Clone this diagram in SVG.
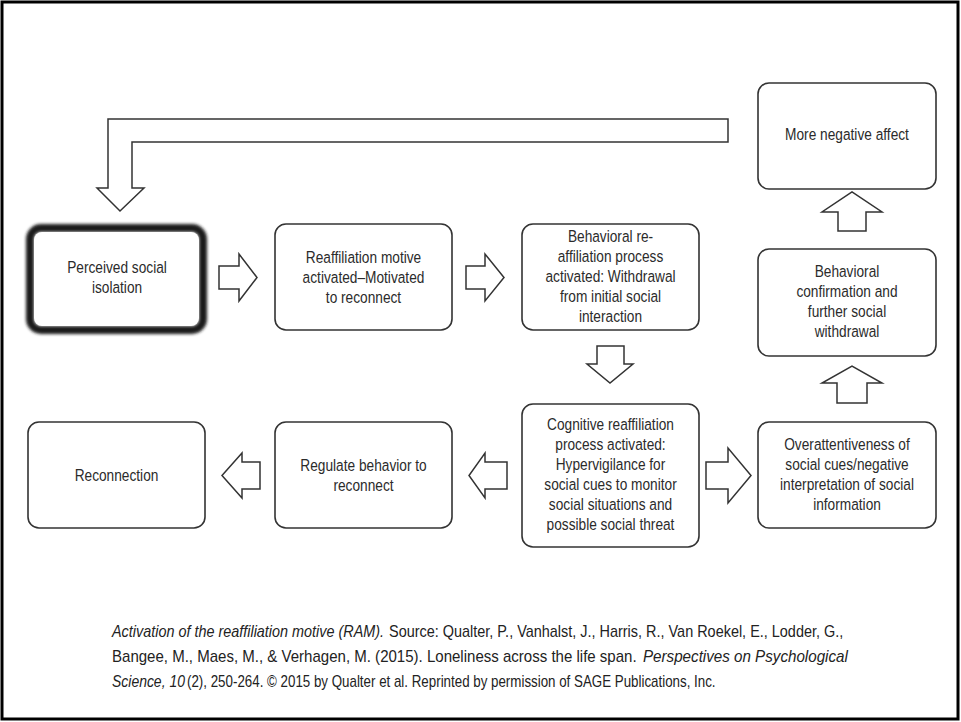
<svg xmlns="http://www.w3.org/2000/svg" width="961" height="722" viewBox="0 0 961 722">
<style>
.box{fill:#fff;stroke:#333;stroke-width:1.6}
.arr{fill:#fff;stroke:#333;stroke-width:1.5;stroke-linejoin:miter}
.lbl{font-family:"Liberation Sans",Arial,sans-serif;font-size:16.5px;fill:#2b2b2b;text-anchor:middle}
.cap{font-family:"Liberation Sans",Arial,sans-serif;font-size:16px;fill:#222}
.it{font-style:italic}
</style>
<defs>
<filter id="glow" x="-10%" y="-10%" width="120%" height="120%">
<feGaussianBlur stdDeviation="1.8"/>
</filter>
</defs>
<rect x="0" y="0" width="961" height="722" fill="#fff"/>
<rect x="2" y="2" width="956" height="717" fill="none" stroke="#000" stroke-width="3"/>

<g id="connectors">
<path class="arr" d="M728,119 H108 V188 H97 L120,211 L144,188 H132 V142 H728 Z"/>
<path class="arr" d="M219,266 H239 V254 L257,277.5 L239,301 V289 H219 Z"/>
<path class="arr" d="M466,266 H485 V254 L504,277.5 L485,301 V289 H466 Z"/>
<path class="arr" d="M597,346 H624 V364 H633 L610,383 L587,364 H597 Z"/>
<path class="arr" d="M706,462 H728 V448 L751,475.5 L728,503 V489 H706 Z"/>
<path class="arr" d="M507,462 H485 V453 L469,475.5 L485,498 V489 H507 Z"/>
<path class="arr" d="M260,462 H242 V453 L222,475.5 L242,498 V489 H260 Z"/>
<path class="arr" d="M837,403 V383 H822 L852,366 L882,383 H867 V403 Z"/>
<path class="arr" d="M838,231 V212 H822 L852,192 L882,212 H866 V231 Z"/>
</g>

<g id="perceived">
<rect x="30" y="228" width="173" height="102" rx="11" fill="none" stroke="#1e1e1e" stroke-width="8" filter="url(#glow)"/>
<rect x="34" y="232" width="165" height="94" rx="8" fill="#fff"/>
<text class="lbl" transform="translate(117,0) scale(0.83,1)"><tspan x="0" y="273">Perceived social</tspan><tspan x="0" y="293">isolation</tspan></text>
</g>

<g id="reaffiliation">
<rect class="box" x="275" y="224" width="177" height="106" rx="11"/>
<text class="lbl" transform="translate(363.5,0) scale(0.83,1)"><tspan x="0" y="263">Reaffiliation motive</tspan><tspan x="0" y="283">activated–Motivated</tspan><tspan x="0" y="303">to reconnect</tspan></text>
</g>

<g id="behavioral-reaffiliation">
<rect class="box" x="522" y="224" width="177" height="106" rx="11"/>
<text class="lbl" transform="translate(610.5,0) scale(0.83,1)"><tspan x="0" y="242">Behavioral re-</tspan><tspan x="0" y="262">affiliation process</tspan><tspan x="0" y="282">activated: Withdrawal</tspan><tspan x="0" y="302">from initial social</tspan><tspan x="0" y="322">interaction</tspan></text>
</g>

<g id="cognitive">
<rect class="box" x="522" y="404" width="177" height="143" rx="11"/>
<text class="lbl" transform="translate(610.5,0) scale(0.83,1)"><tspan x="0" y="430">Cognitive reaffiliation</tspan><tspan x="0" y="450">process activated:</tspan><tspan x="0" y="470">Hypervigilance for</tspan><tspan x="0" y="490">social cues to monitor</tspan><tspan x="0" y="510">social situations and</tspan><tspan x="0" y="530">possible social threat</tspan></text>
</g>

<g id="overattentiveness">
<rect class="box" x="758" y="422" width="178" height="106" rx="11"/>
<text class="lbl" transform="translate(847,0) scale(0.83,1)"><tspan x="0" y="450">Overattentiveness of</tspan><tspan x="0" y="470">social cues/negative</tspan><tspan x="0" y="490">interpretation of social</tspan><tspan x="0" y="510">information</tspan></text>
</g>

<g id="behavioral-confirmation">
<rect class="box" x="758" y="249" width="178" height="107" rx="11"/>
<text class="lbl" transform="translate(847,0) scale(0.83,1)"><tspan x="0" y="277">Behavioral</tspan><tspan x="0" y="297">confirmation and</tspan><tspan x="0" y="317">further social</tspan><tspan x="0" y="337">withdrawal</tspan></text>
</g>

<g id="more-negative">
<rect class="box" x="758" y="83" width="178" height="106" rx="11"/>
<text class="lbl" transform="translate(847,0) scale(0.83,1)"><tspan x="0" y="140">More negative affect</tspan></text>
</g>

<g id="regulate">
<rect class="box" x="275" y="422" width="177" height="106" rx="11"/>
<text class="lbl" transform="translate(363.5,0) scale(0.83,1)"><tspan x="0" y="471">Regulate behavior to</tspan><tspan x="0" y="491">reconnect</tspan></text>
</g>

<g id="reconnection">
<rect class="box" x="28" y="422" width="177" height="106" rx="11"/>
<text class="lbl" transform="translate(116.5,0) scale(0.83,1)"><tspan x="0" y="481">Reconnection</tspan></text>
</g>

<g id="caption">
<text class="cap it" transform="translate(112,637) scale(0.90,1)" x="0" y="0">Activation of the reaffiliation motive (RAM).</text>
<text class="cap" transform="translate(389,637) scale(0.903,1)" x="0" y="0">Source: Qualter, P., Vanhalst, J., Harris, R., Van Roekel, E., Lodder, G.,</text>
<text class="cap" transform="translate(112,662) scale(0.94,1)" x="0" y="0">Bangee, M., Maes, M., &amp; Verhagen, M. (2015). Loneliness across the life span.</text>
<text class="cap it" transform="translate(643,662) scale(0.949,1)" x="0" y="0">Perspectives on Psychological</text>
<text class="cap it" transform="translate(112,687) scale(0.873,1)" x="0" y="0">Science, 10</text>
<text class="cap" transform="translate(187,687) scale(0.834,1)" x="0" y="0">(2), 250-264. © 2015 by Qualter et al. Reprinted by permission of SAGE Publications, Inc.</text>
</g>
</svg>
